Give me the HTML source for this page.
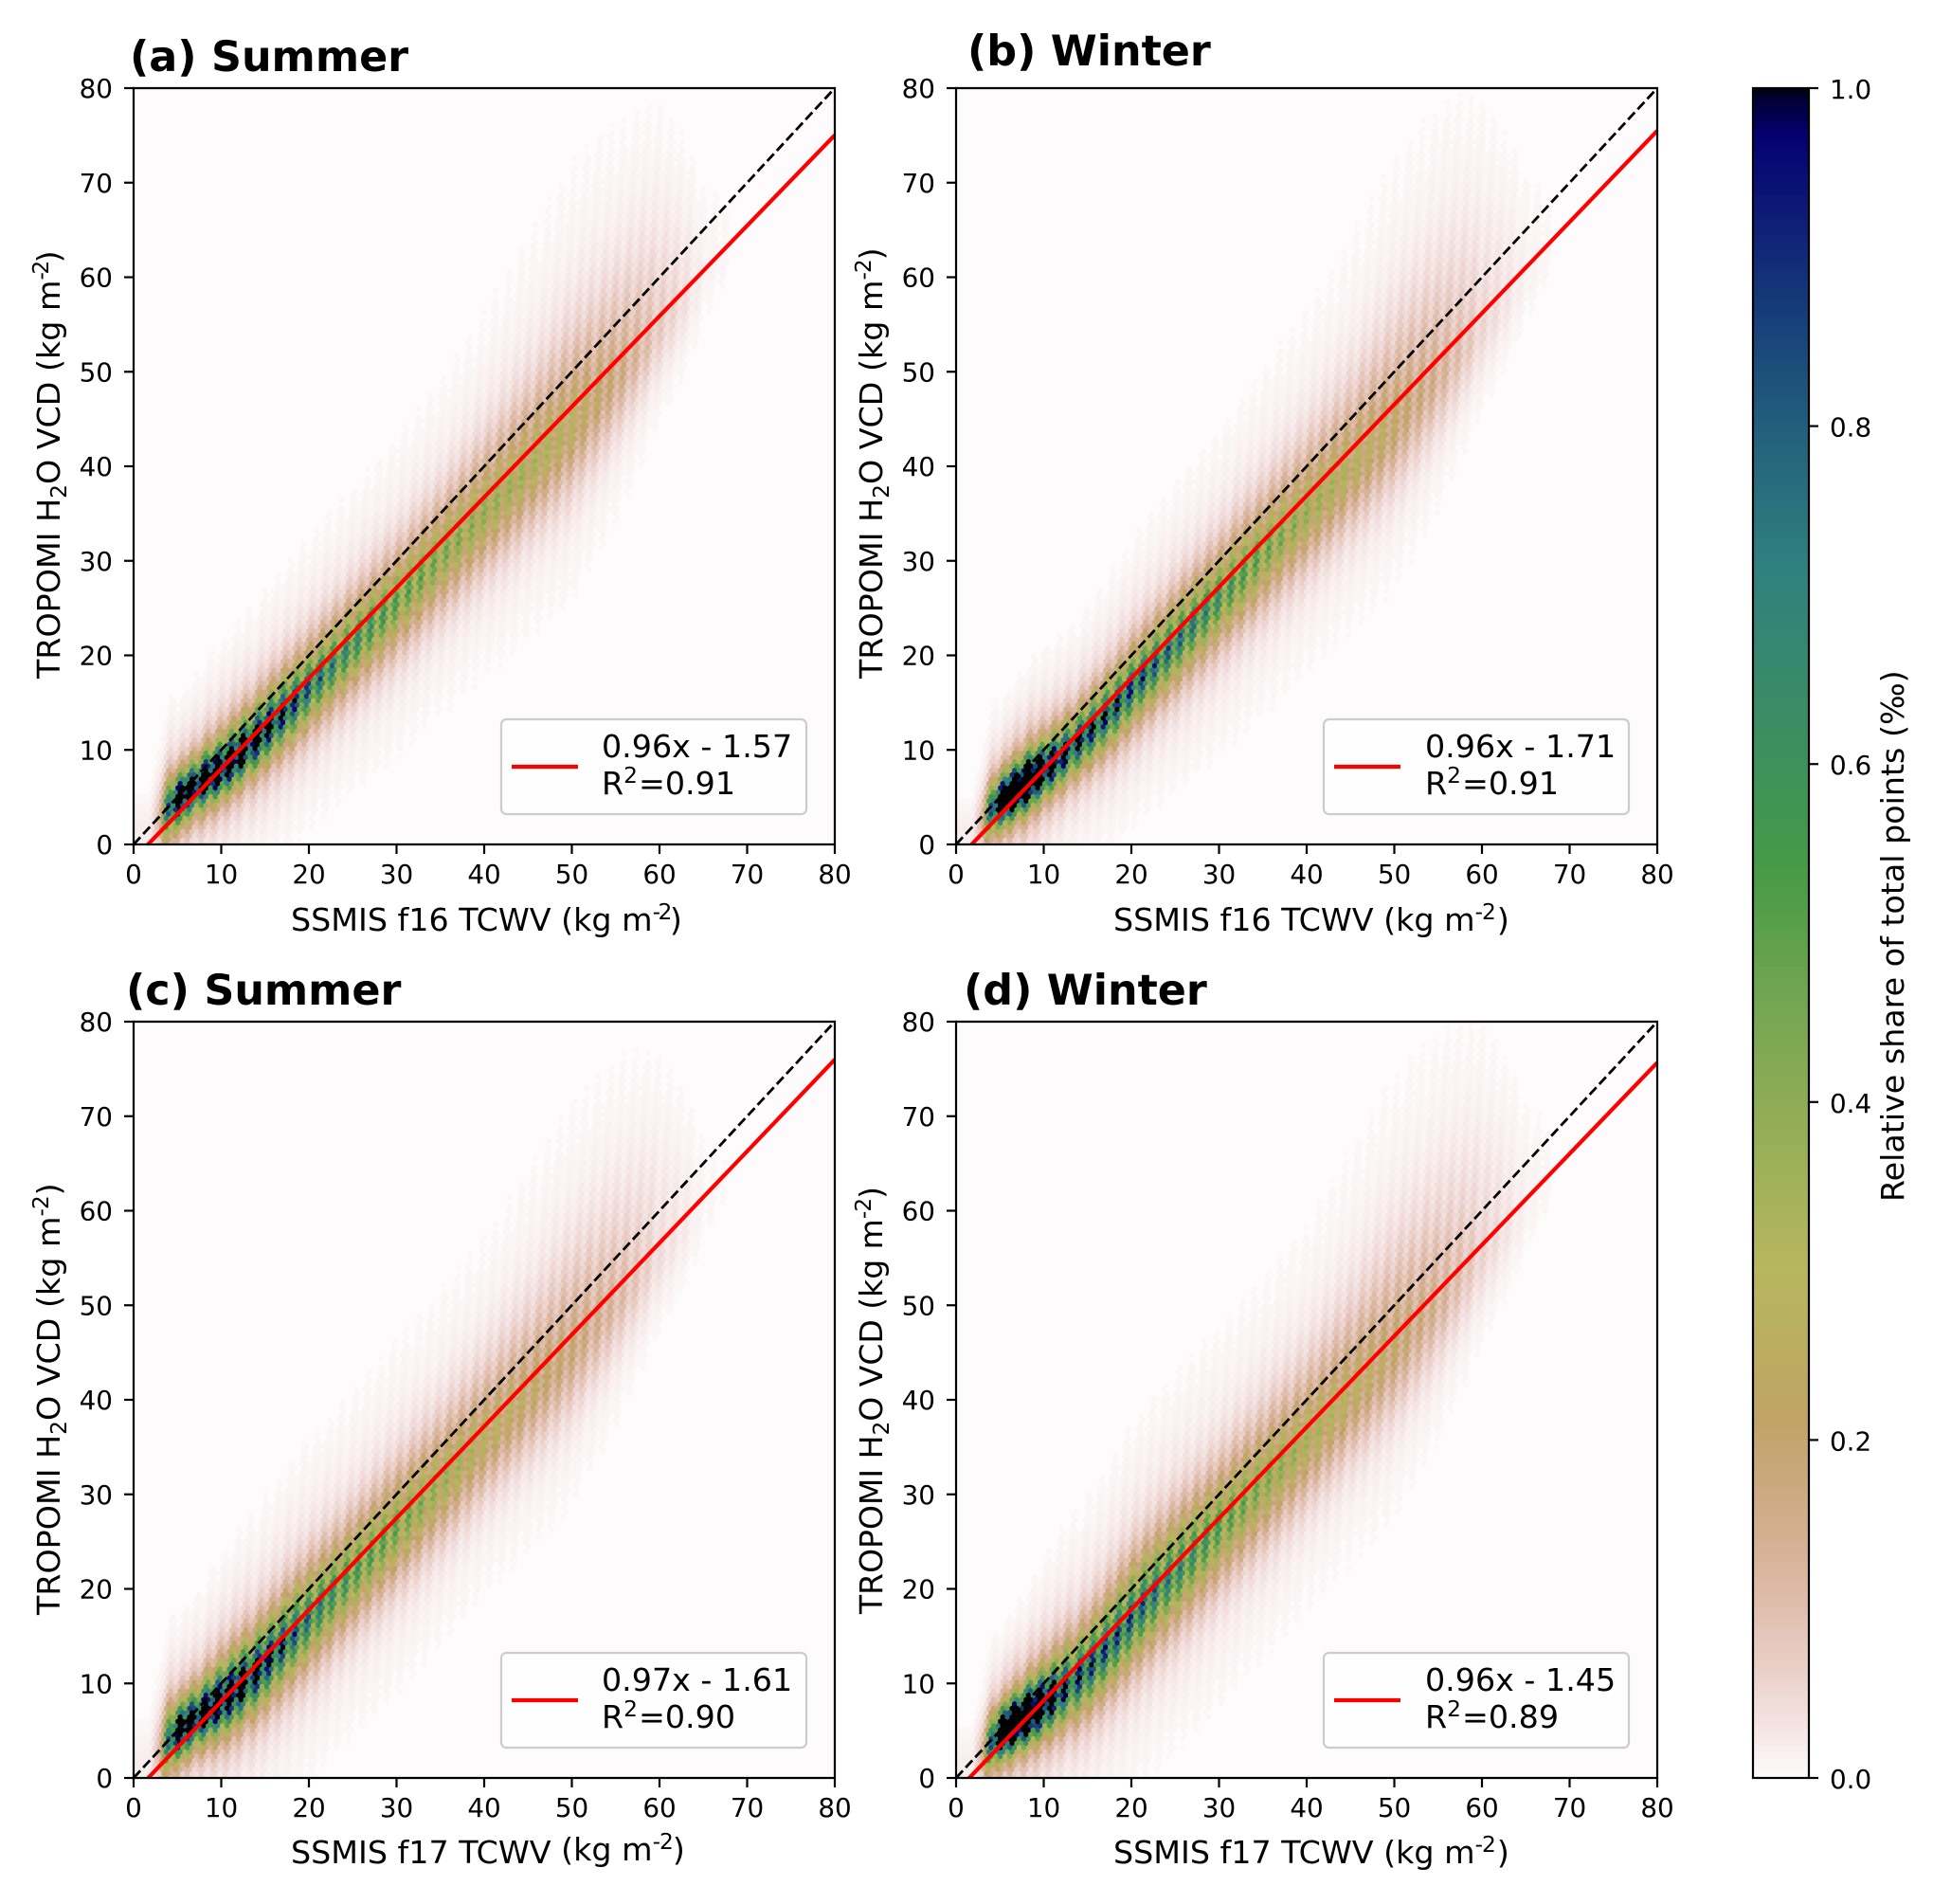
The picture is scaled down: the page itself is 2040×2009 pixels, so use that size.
<!DOCTYPE html>
<html lang="en">
<head>
<meta charset="utf-8">
<title>TROPOMI vs SSMIS TCWV density</title>
<style>
html,body{margin:0;padding:0;background:#fff;}
svg{display:block;}
text{font-family:"DejaVu Sans","Liberation Sans",sans-serif;fill:#000;}
.title{font-size:44.4px;font-weight:bold;}
.label{font-size:33.3px;}
.legend-text{font-size:33.3px;}
.small{font-size:23.3px;}
.sup{font-size:23.3px;letter-spacing:-2.5px;}
.sup-wide{font-size:23.3px;letter-spacing:-1px;}
</style>
</head>
<body>
<svg id="figure" xmlns="http://www.w3.org/2000/svg" width="2040" height="2009" viewBox="0 0 2040 2009">
<defs>
<clipPath id="clip-a"><rect x="141" y="93" width="740" height="798"/></clipPath>
<clipPath id="clip-b"><rect x="1009" y="93" width="740" height="798"/></clipPath>
<clipPath id="clip-c"><rect x="141" y="1078" width="740" height="798"/></clipPath>
<clipPath id="clip-d"><rect x="1009" y="1078" width="740" height="798"/></clipPath>
</defs>

<g id="panel-a">
<rect x="141" y="93" width="740" height="798" fill="#fdfbfb"/>
<g id="hex-a" clip-path="url(#clip-a)"></g>
<g id="lines-a" clip-path="url(#clip-a)"></g>
<g>
<rect x="529" y="759" width="322" height="100" rx="5.5" fill="#fff" fill-opacity="0.8" stroke="#cccccc" stroke-width="2.2"/>
<line x1="540" y1="809" x2="610" y2="809" stroke="#ff0000" stroke-width="4.2"/>
<text class="legend-text" x="635" y="799">0.96x - 1.57</text>
<text class="legend-text" x="635" y="838">R<tspan class="small" dy="-12">2</tspan><tspan dy="12" dx="1">=0.91</tspan></text>
</g>
<g id="axes-a"></g>
<text class="title" x="137" y="75">(a) Summer</text>
<text class="label" x="307" y="982">SSMIS f16 TCWV (kg m<tspan class="sup" dy="-12">-2</tspan><tspan dy="12">)</tspan></text>
<text class="label" transform="translate(63,716) rotate(-90)" x="0" y="0">TROPOMI H<tspan class="small" dy="7">2</tspan><tspan dy="-7">O VCD (kg m</tspan><tspan class="sup" dy="-12">-2</tspan><tspan dy="12">)</tspan></text>
</g>

<g id="panel-b">
<rect x="1009" y="93" width="740" height="798" fill="#fdfbfb"/>
<g id="hex-b" clip-path="url(#clip-b)"></g>
<g id="lines-b" clip-path="url(#clip-b)"></g>
<g>
<rect x="1397" y="759" width="322" height="100" rx="5.5" fill="#fff" fill-opacity="0.8" stroke="#cccccc" stroke-width="2.2"/>
<line x1="1408" y1="809" x2="1478" y2="809" stroke="#ff0000" stroke-width="4.2"/>
<text class="legend-text" x="1504" y="799">0.96x - 1.71</text>
<text class="legend-text" x="1504" y="838">R<tspan class="small" dy="-12">2</tspan><tspan dy="12" dx="1">=0.91</tspan></text>
</g>
<g id="axes-b"></g>
<text class="title" x="1021" y="69">(b) Winter</text>
<text class="label" x="1175" y="982">SSMIS f16 TCWV (kg m<tspan class="sup-wide" dy="-12">-2</tspan><tspan dy="12" dx="2">)</tspan></text>
<text class="label" transform="translate(931,716) rotate(-90)" x="0" y="0">TROPOMI H<tspan class="small" dy="7">2</tspan><tspan dy="-7">O VCD (kg m</tspan><tspan class="sup-wide" dy="-12">-2</tspan><tspan dy="12">)</tspan></text>
</g>

<g id="panel-c">
<rect x="141" y="1078" width="740" height="798" fill="#fdfbfb"/>
<g id="hex-c" clip-path="url(#clip-c)"></g>
<g id="lines-c" clip-path="url(#clip-c)"></g>
<g>
<rect x="529" y="1744" width="322" height="100" rx="5.5" fill="#fff" fill-opacity="0.8" stroke="#cccccc" stroke-width="2.2"/>
<line x1="540" y1="1794" x2="610" y2="1794" stroke="#ff0000" stroke-width="4.2"/>
<text class="legend-text" x="635" y="1784">0.97x - 1.61</text>
<text class="legend-text" x="635" y="1823">R<tspan class="small" dy="-12">2</tspan><tspan dy="12" dx="1">=0.90</tspan></text>
</g>
<g id="axes-c"></g>
<text class="title" x="133" y="1060">(c) Summer</text>
<text class="label" x="307" y="1966">SSMIS f17 TCWV <tspan dy="-3">(kg m</tspan><tspan class="sup-wide" dy="-12">-2</tspan><tspan dy="12">)</tspan></text>
<text class="label" transform="translate(63,1704) rotate(-90)" x="0" y="0">TROPOMI H<tspan class="small" dy="7">2</tspan><tspan dy="-7">O VCD (kg m</tspan><tspan class="sup-wide" dy="-12">-2</tspan><tspan dy="12" dx="1">)</tspan></text>
</g>

<g id="panel-d">
<rect x="1009" y="1078" width="740" height="798" fill="#fdfbfb"/>
<g id="hex-d" clip-path="url(#clip-d)"></g>
<g id="lines-d" clip-path="url(#clip-d)"></g>
<g>
<rect x="1397" y="1744" width="322" height="100" rx="5.5" fill="#fff" fill-opacity="0.8" stroke="#cccccc" stroke-width="2.2"/>
<line x1="1408" y1="1794" x2="1478" y2="1794" stroke="#ff0000" stroke-width="4.2"/>
<text class="legend-text" x="1504" y="1784">0.96x - 1.45</text>
<text class="legend-text" x="1504" y="1823">R<tspan class="small" dy="-12">2</tspan><tspan dy="12" dx="1">=0.89</tspan></text>
</g>
<g id="axes-d"></g>
<text class="title" x="1017" y="1060">(d) Winter</text>
<text class="label" x="1175" y="1966">SSMIS f17 TCWV (kg m<tspan class="sup-wide" dy="-12">-2</tspan><tspan dy="12" dx="2">)</tspan></text>
<text class="label" style="font-size:33px" transform="translate(931,1703) rotate(-90)" x="0" y="0">TROPOMI H<tspan class="small" dy="7">2</tspan><tspan dy="-7">O VCD (kg m</tspan><tspan class="sup-wide" dy="-12">-2</tspan><tspan dy="12">)</tspan></text>
</g>

<g id="colorbar"></g>
<text class="label" transform="translate(2009,1268) rotate(-90)" x="0" y="0">Relative share of total points (‰)</text>
</svg>

<script>
// Axis ticks
const axisTicks = [0, 10, 20, 30, 40, 50, 60, 70, 80];
const colorbarTicks = [0.0, 0.2, 0.4, 0.6, 0.8, 1.0];
const colorbarTickLabels = ["0.0", "0.2", "0.4", "0.6", "0.8", "1.0"];

// Fit lines as seen in the picture
const fitSlopes = [0.9575, 0.965, 0.97, 0.964];
const fitIntercepts = [-1.57, -1.71, -1.61, -1.45];

// Profile positions (x, SSMIS TCWV) at which the density band was read
const profileX = [2, 3, 4, 5, 6.5, 8, 10, 12, 14, 16, 18, 20, 23, 26, 30, 35, 40, 45, 50, 55, 60, 65, 70];

// Panel (a)
const ridgeA = [1.5, 2.8, 3.8, 4.8, 5.8, 6.8, 7.9, 9.5, 11.2, 13, 14.7, 16.5, 19.2, 22, 25.6, 30.3, 34.9, 39.5, 44.2, 49.2, 54.5, 60, 65];
const peakA = [0.03, 0.2, 0.75, 1.25, 1.25, 1.25, 1.25, 1.22, 1.12, 0.96, 0.82, 0.7, 0.6, 0.53, 0.45, 0.38, 0.33, 0.29, 0.24, 0.16, 0.07, 0.012, 0.001];
const spreadUpA = [3, 2.8, 2.4, 1.9, 2, 2.2, 2.4, 2.5, 2.6, 2.8, 3, 3.2, 3.4, 3.6, 3.9, 4.4, 5.2, 6.2, 7.5, 8.3, 9.8, 8, 8];
const spreadDownA = [3, 3, 2.6, 2.1, 2.1, 2.2, 2.2, 2.3, 2.5, 2.7, 2.9, 3, 3.2, 3.4, 3.7, 3.9, 4.2, 4.5, 5, 4.7, 4.2, 4, 4];

// Panel (b)
const ridgeB = [1.5, 2.6, 3.6, 4.5, 5.5, 6.5, 7.8, 9.3, 10.9, 12.6, 14.4, 16.4, 19.3, 22.2, 26, 30.6, 35, 39.6, 44.4, 49.4, 54.6, 60, 65];
const peakB = [0.03, 0.2, 0.75, 1.5, 1.9, 1.9, 1.3, 1.02, 0.92, 0.85, 0.8, 0.76, 0.7, 0.64, 0.53, 0.41, 0.32, 0.26, 0.2, 0.13, 0.05, 0.012, 0.001];
const spreadUpB = [2.6, 2.4, 2.2, 1.8, 1.9, 2.1, 2.3, 2.4, 2.5, 2.7, 2.9, 3.1, 3.3, 3.5, 3.8, 4.5, 5.3, 6.3, 8, 9.5, 11, 9, 9];
const spreadDownB = [2.8, 2.6, 2.2, 1.9, 1.9, 2, 2.1, 2.3, 2.4, 2.6, 2.8, 2.9, 3.1, 3.3, 3.6, 3.9, 4.2, 4.5, 5, 4.7, 4.2, 4, 4];

// Panel (c)
const ridgeC = [1.5, 2.8, 3.8, 4.8, 5.8, 6.8, 8.1, 9.6, 11.2, 13.1, 15, 16.9, 19.7, 22.5, 26.3, 31, 35.8, 40.4, 45.2, 50.2, 55.4, 60.5, 65];
const peakC = [0.03, 0.2, 0.7, 1.2, 1.2, 1.2, 1.2, 1.15, 1, 0.86, 0.74, 0.64, 0.53, 0.47, 0.41, 0.32, 0.25, 0.21, 0.17, 0.11, 0.04, 0.008, 0.001];
const spreadUpC = [3.4, 3.2, 2.8, 2.2, 2.3, 2.5, 2.8, 3, 3.2, 3.4, 3.7, 3.9, 4.1, 4.3, 4.6, 5, 5.7, 6.7, 8, 9, 10.5, 8, 8];
const spreadDownC = [3.2, 3, 2.6, 2.2, 2.2, 2.3, 2.6, 2.8, 3, 3.2, 3.4, 3.6, 3.7, 3.8, 4, 4.2, 4.4, 4.7, 5, 4.6, 4.2, 4, 4];

// Panel (d)
const ridgeD = [1.5, 2.6, 3.6, 4.6, 5.6, 6.6, 7.8, 9.2, 10.6, 12.4, 14.6, 16.9, 19.9, 22.6, 26.4, 31, 35.6, 40.4, 45.2, 50.2, 55.4, 60.5, 65];
const peakD = [0.03, 0.2, 0.75, 1.5, 1.9, 1.9, 1.3, 0.92, 0.8, 0.76, 0.74, 0.72, 0.64, 0.57, 0.46, 0.37, 0.29, 0.24, 0.19, 0.13, 0.055, 0.012, 0.001];
const spreadUpD = [2.8, 2.6, 2.3, 1.9, 2, 2.2, 2.7, 3.2, 3.5, 3.7, 3.9, 4.1, 4.3, 4.5, 4.7, 5.2, 5.8, 7, 8.5, 9.5, 11, 9, 9];
const spreadDownD = [2.8, 2.6, 2.2, 1.9, 2, 2.1, 2.4, 2.8, 3.1, 3.3, 3.5, 3.7, 3.9, 4, 4.2, 4.4, 4.6, 4.8, 5.2, 4.9, 4.4, 4, 4];

// Vertical striping in the density: x positions of the bright columns
const stripeCentres = [3.8, 5.23, 6.49, 8.1, 9.55, 11.0, 12.4, 14.05, 15.5, 16.97, 18.4, 19.85, 21.3, 22.7, 24.2, 25.6, 27.05, 28.5, 29.9, 31.4, 32.8, 34.25, 35.7, 37.1, 38.6, 40, 41.45, 42.9, 44.3, 45.8, 47.2, 48.65, 50.1, 51.5, 53, 54.4, 55.85, 57.3, 58.7, 60.2, 61.6, 63, 64.5, 66, 67.4, 68.9];

// gist_earth_r colour map anchors
const cmapRedT = [0, 0.2824, 0.4588, 0.5490, 0.6980, 0.7882, 1];
const cmapRedV = [0, 0.1882, 0.2714, 0.4719, 0.7176, 0.7553, 0.9922];
const cmapGreenT = [0, 0.0275, 0.1098, 0.1647, 0.2078, 0.2824, 0.5216, 0.6980, 0.7882, 0.8157, 0.8667, 0.8980, 0.9412, 0.9647, 0.9961, 1];
const cmapGreenV = [0, 0, 0.1893, 0.3035, 0.3841, 0.5020, 0.6397, 0.7171, 0.6392, 0.6549, 0.6991, 0.7430, 0.8275, 0.8816, 0.9733, 0.9843];
const cmapBlueT = [0, 0.0039, 0.0078, 0.0275, 0.0314, 0.2824, 0.4667, 0.5451, 0.7843, 0.8941, 1];
const cmapBlueV = [0, 0.1684, 0.2212, 0.4329, 0.4549, 0.5004, 0.2748, 0.3205, 0.3961, 0.6651, 0.9843];

const SVGNS = 'http://www.w3.org/2000/svg';

function lerpTable(xs, ys, x) {
  if (x <= xs[0]) return ys[0];
  if (x >= xs[xs.length - 1]) return ys[ys.length - 1];
  let i = 1;
  while (xs[i] < x) i++;
  const f = (x - xs[i - 1]) / (xs[i] - xs[i - 1]);
  return ys[i - 1] + f * (ys[i] - ys[i - 1]);
}

function cmapColor(value) {
  const t = 1 - Math.max(0, Math.min(1, value));
  const r = Math.round(255 * lerpTable(cmapRedT, cmapRedV, t));
  const g = Math.round(255 * lerpTable(cmapGreenT, cmapGreenV, t));
  const b = Math.round(255 * lerpTable(cmapBlueT, cmapBlueV, t));
  return 'rgb(' + r + ',' + g + ',' + b + ')';
}

function stripeFactor(x) {
  let best = 99;
  for (const c of stripeCentres) {
    const d = Math.abs(x - c);
    if (d < best) best = d;
  }
  return 1 + 0.35 * Math.cos(Math.PI * Math.min(best, 0.72) / 0.72);
}

function densityAt(series, x, y) {
  const c = lerpTable(profileX, series.ridge, x);
  const p = lerpTable(profileX, series.peak, x);
  const s = y > c ? lerpTable(profileX, series.up, x) : lerpTable(profileX, series.down, x);
  const u = Math.abs(y - c) / s;
  const tilted = x - 0.06 * (y - c);
  const core = 0.85 * Math.exp(-Math.pow(u, 1.6));
  const halo = 0.15 * Math.exp(-Math.pow(u / 2, 1.3));
  return p * (core + halo) * stripeFactor(tilted);
}

function drawHexes(key, series, xScale, yScale) {
  const host = document.getElementById('hex-' + key);
  const cellW = 0.533;
  const rowH = 0.4615;
  const tip = 0.3077;
  const side = 0.1538;
  const frag = document.createDocumentFragment();
  const rows = Math.ceil(80 / rowH);
  const cols = Math.ceil(80 / cellW);
  for (let j = 0; j <= rows; j++) {
    const cy = j * rowH;
    const shift = j % 2 ? cellW / 2 : 0;
    for (let i = 0; i <= cols; i++) {
      const cx = i * cellW + shift;
      const v = densityAt(series, cx, cy);
      if (v < 0.005) continue;
      const colour = cmapColor(v);
      const pts = [
        [cx + cellW / 2, cy - side], [cx + cellW / 2, cy + side], [cx, cy + tip],
        [cx - cellW / 2, cy + side], [cx - cellW / 2, cy - side], [cx, cy - tip]
      ].map(function (q) { return xScale(q[0]).toFixed(1) + ',' + yScale(q[1]).toFixed(1); }).join(' ');
      const el = document.createElementNS(SVGNS, 'polygon');
      
      
      el.setAttribute('points', pts);
      el.setAttribute('fill', colour);
      el.setAttribute('stroke', colour);
      el.setAttribute('stroke-width', '0.4');
      frag.appendChild(el);
    }
  }
  host.appendChild(frag);
}

function drawLines(key, idx, xScale, yScale) {
  const host = document.getElementById('lines-' + key);
  const oneToOne = document.createElementNS(SVGNS, 'line');
  
  
  oneToOne.setAttribute('x1', xScale(0));
  oneToOne.setAttribute('y1', yScale(0));
  oneToOne.setAttribute('x2', xScale(80));
  oneToOne.setAttribute('y2', yScale(80));
  oneToOne.setAttribute('stroke', '#000');
  oneToOne.setAttribute('stroke-width', '2.8');
  oneToOne.setAttribute('stroke-dasharray', '10.4 4.5');
  host.appendChild(oneToOne);
  const fit = document.createElementNS(SVGNS, 'line');
  
  
  fit.setAttribute('x1', xScale(0));
  fit.setAttribute('y1', yScale(fitIntercepts[idx]));
  fit.setAttribute('x2', xScale(80));
  fit.setAttribute('y2', yScale(fitSlopes[idx] * 80 + fitIntercepts[idx]));
  fit.setAttribute('stroke', '#ff0000');
  fit.setAttribute('stroke-width', '4.2');
  host.appendChild(fit);
}

function addLine(host, name, x1, y1, x2, y2) {
  const el = document.createElementNS(SVGNS, 'line');
  
  
  el.setAttribute('x1', x1);
  el.setAttribute('y1', y1);
  el.setAttribute('x2', x2);
  el.setAttribute('y2', y2);
  el.setAttribute('stroke', '#000');
  el.setAttribute('stroke-width', '2.2');
  host.appendChild(el);
}

function addText(host, name, x, y, anchor, content) {
  const el = document.createElementNS(SVGNS, 'text');
  
  
  el.setAttribute('x', x);
  el.setAttribute('y', y);
  el.setAttribute('text-anchor', anchor);
  el.setAttribute('font-size', '27.8');
  el.textContent = content;
  host.appendChild(el);
}

function drawAxes(key, left, top, xScale, yScale) {
  const host = document.getElementById('axes-' + key);
  const right = left + 740;
  const bottom = top + 798;
  addLine(host, 'spine-left', left, top - 1.1, left, bottom + 1.1);
  addLine(host, 'spine-right', right, top - 1.1, right, bottom + 1.1);
  addLine(host, 'spine-top', left, top, right, top);
  addLine(host, 'spine-bottom', left, bottom, right, bottom);
  for (const t of axisTicks) {
    addLine(host, 'x-tick', xScale(t), bottom, xScale(t), bottom + 10);
    addText(host, 'x-tick-label', xScale(t), bottom + 41, 'middle', String(t));
    addLine(host, 'y-tick', left - 10, yScale(t), left, yScale(t));
    addText(host, 'y-tick-label', left - 22, yScale(t) + 10, 'end', String(t));
  }
}

function drawColorbar() {
  const host = document.getElementById('colorbar');
  const x0 = 1850, x1 = 1909, top = 93, bottom = 1876;
  const cbScale = function (v) { return bottom - v * (bottom - top); };
  const levels = 256;
  for (let i = 0; i < levels; i++) {
    const lo = i / levels;
    const hi = (i + 1) / levels;
    const seg = document.createElementNS(SVGNS, 'rect');
    
    
    seg.setAttribute('x', x0);
    seg.setAttribute('y', cbScale(hi));
    seg.setAttribute('width', x1 - x0);
    seg.setAttribute('height', cbScale(lo) - cbScale(hi) + 0.6);
    seg.setAttribute('fill', cmapColor((i + 0.5) / levels));
    host.appendChild(seg);
  }
  const frame = document.createElementNS(SVGNS, 'rect');
  
  
  frame.setAttribute('x', x0);
  frame.setAttribute('y', top);
  frame.setAttribute('width', x1 - x0);
  frame.setAttribute('height', bottom - top);
  frame.setAttribute('fill', 'none');
  frame.setAttribute('stroke', '#000');
  frame.setAttribute('stroke-width', '2.2');
  host.appendChild(frame);
  colorbarTicks.forEach(function (v, i) {
    addLine(host, 'colorbar-tick', x1, cbScale(v), x1 + 10, cbScale(v));
    addText(host, 'colorbar-tick-label', 1931, cbScale(v) + 11, 'start', colorbarTickLabels[i]);
  });
}

const panelSeries = [
  { key: 'a', left: 141, top: 93, ridge: ridgeA, peak: peakA, up: spreadUpA, down: spreadDownA },
  { key: 'b', left: 1009, top: 93, ridge: ridgeB, peak: peakB, up: spreadUpB, down: spreadDownB },
  { key: 'c', left: 141, top: 1078, ridge: ridgeC, peak: peakC, up: spreadUpC, down: spreadDownC },
  { key: 'd', left: 1009, top: 1078, ridge: ridgeD, peak: peakD, up: spreadUpD, down: spreadDownD }
];

panelSeries.forEach(function (p, idx) {
  const xScale = function (v) { return p.left + v * 740 / 80; };
  const yScale = function (v) { return p.top + 798 - v * 798 / 80; };
  drawHexes(p.key, p, xScale, yScale);
  drawLines(p.key, idx, xScale, yScale);
  drawAxes(p.key, p.left, p.top, xScale, yScale);
});
drawColorbar();
</script>
</body>
</html>
